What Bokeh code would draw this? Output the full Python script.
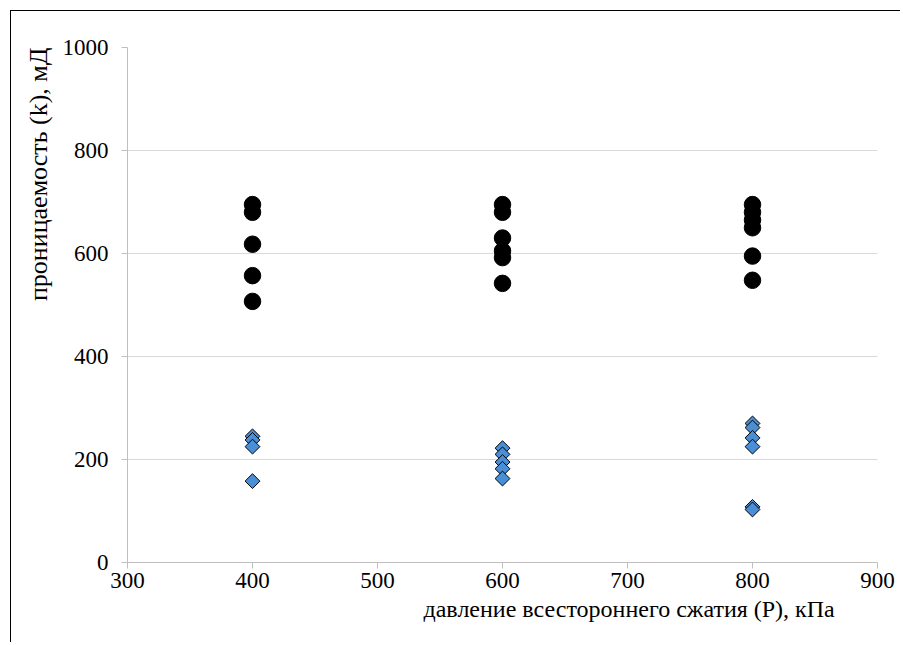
from bokeh.plotting import figure
from bokeh.models import Title, FixedTicker
from bokeh.embed import file_html
from bokeh.resources import INLINE
import numpy as np

# Data
circle_x = [400]*5 + [600]*6 + [800]*6
circle_k = [695, 680, 618, 557, 507,
            695, 680, 630, 605, 592, 542,
            695, 680, 665, 650, 595, 548]
diamond_x = [400]*4 + [600]*5 + [800]*6
diamond_k = [245, 238, 225, 158,
             222, 210, 195, 182, 163,
             270, 262, 242, 225, 108, 103]
x_ticks = [300, 400, 500, 600, 700, 800, 900]
y_ticks = [0, 200, 400, 600, 800, 1000]
x_title = "давление всестороннего сжатия (P), кПа"
y_title = "проницаемость (k), мД"

FONT = "Liberation Serif"

p = figure(width=890, height=632, output_backend="svg", toolbar_location=None,
           x_range=(300, 900), y_range=(0, 1000),
           min_border_left=116, min_border_right=24, min_border_top=36, min_border_bottom=81)
p.margin = (10, 0, 0, 10)
p.styles = {"border-top": "1px solid black", "border-left": "1px solid black"}

p.outline_line_color = None
p.xgrid.grid_line_color = None
p.ygrid.grid_line_color = "#d9d9d9"
p.ygrid.grid_line_width = 1

p.xaxis.ticker = FixedTicker(ticks=x_ticks)
p.yaxis.ticker = FixedTicker(ticks=y_ticks)
for ax in (p.xaxis, p.yaxis):
    ax.axis_line_color = "#bfbfbf"
    ax.major_tick_line_color = "#bfbfbf"
    ax.major_tick_in = 0
    ax.major_tick_out = 6
    ax.minor_tick_line_color = None
    ax.major_label_text_font = FONT
    ax.major_label_text_font_size = "23px"
    ax.major_label_text_color = "#000000"
p.yaxis.major_label_standoff = 13
p.xaxis.major_label_standoff = 4

ty = Title(text=y_title, align="right", offset=0, text_font=FONT, text_color="#000000",
           text_font_size="26px", text_font_style="normal", standoff=14)
p.add_layout(ty, "left")

t = Title(text=x_title, align="left", offset=296, text_font=FONT, text_color="#000000",
          text_font_size="24px", text_font_style="normal", standoff=6)
p.add_layout(t, "below")

p.scatter(diamond_x, diamond_k, marker="square", angle=np.pi/4, size=10.5,
          fill_color="#4a8fd6", line_color="#000000", line_width=1)
p.scatter(circle_x, circle_k, marker="circle", size=16.5,
          fill_color="#000000", line_color="#000000")

open("out.html", "w").write(file_html(p, INLINE))
